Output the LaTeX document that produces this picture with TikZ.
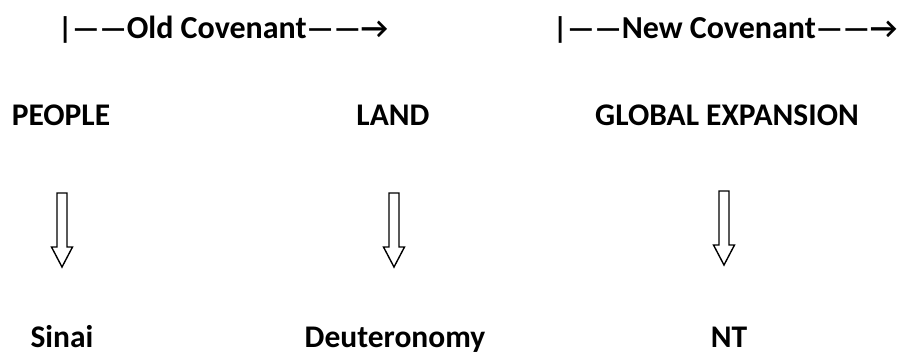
\documentclass[tikz,border=0pt]{standalone}
\usepackage{fontspec}
\setmainfont{Carlito}
\newcommand{\dashpart}[1]{{\fontsize{30}{36}\selectfont#1}}
\begin{document}
\begin{tikzpicture}[x=1pt,y=-1pt,
  label/.style={font=\bfseries\fontsize{31.5}{36}\selectfont, inner sep=0pt, anchor=base},
  head/.style={font=\bfseries\fontsize{32}{36}\selectfont, inner sep=0pt, anchor=base west},
  pics/blockarrow/.style={code={
    \draw[line width=1.4pt, line join=miter, fill=white]
      (-5,0) -- (-5,54) -- (-10.5,54) -- (0,74) -- (10.5,54) -- (5,54) -- (5,0) -- cycle;}}]
\useasboundingbox (0,0) rectangle (905,354);

% covenant headers
\node[head] (old) at (58,38) {\dashpart{|——}Old Covenant\dashpart{——→}};
\node[head] (new) at (553,38) {\dashpart{|——}New Covenant\dashpart{——→}};

% top row
\node[label] (people) at (61,125) {PEOPLE};
\node[label] (land)   at (393,125) {LAND};
\node[label] (global) at (727,125) {GLOBAL EXPANSION};

% bottom row
\node[label] (sinai) at (62,347) {Sinai};
\node[label] (deut)  at (395,347) {Deuteronomy};
\node[label] (nt)    at (729,347) {NT};

% block arrows between the rows
\pic at (62,193) {blockarrow};
\pic at (394,193) {blockarrow};
\pic at (724,191) {blockarrow};
\end{tikzpicture}
\end{document}
